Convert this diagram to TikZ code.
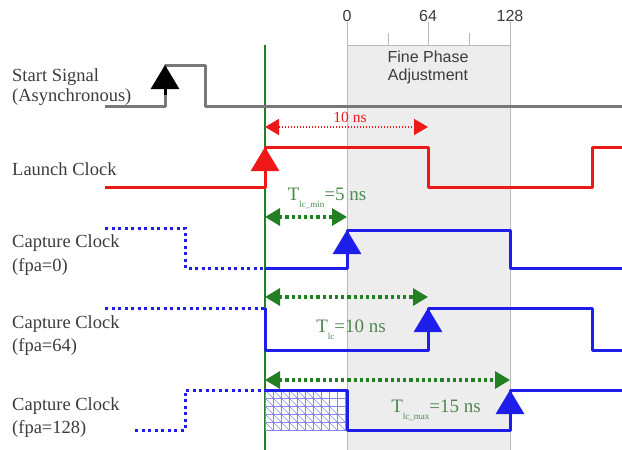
\documentclass[tikz,border=0pt]{standalone}
\usepackage{fontspec}
\setmainfont{Liberation Serif}
\setsansfont{Liberation Sans}
\usetikzlibrary{arrows.meta, positioning, calc}

\definecolor{sigred}{RGB}{238,24,24}
\definecolor{sigblue}{RGB}{30,30,235}
\definecolor{siggray}{RGB}{120,120,120}
\definecolor{measgreen}{RGB}{34,128,34}
\definecolor{txtgreen}{RGB}{78,136,78}
\definecolor{boxgray}{RGB}{237,237,237}
\definecolor{linegray}{RGB}{185,185,185}
\definecolor{lbltext}{RGB}{60,60,60}

\begin{document}
\begin{tikzpicture}[x=1pt, y=-1pt,
    lbl/.style={anchor=base west, inner sep=0pt, text=lbltext, font=\fontsize{18.5}{20}\selectfont},
    scalelbl/.style={anchor=base, inner sep=0pt, text=lbltext, font=\sffamily\fontsize{16}{18}\selectfont},
    wave/.style={line width=3pt, line join=round},
    idle/.style={line width=3pt, dash pattern=on 3pt off 3.5pt},
    edgetip/.style={-{Triangle[length=24pt, width=28pt]}, line width=3pt},
    measure/.style={{Triangle[length=15pt, width=17pt]}-{Triangle[length=15pt, width=17pt]}, line width=3.2pt, dash pattern=on 3.2pt off 3pt, measgreen},
    measred/.style={{Triangle[length=14pt, width=16pt]}-{Triangle[length=14pt, width=16pt]}, line width=1.5pt, dash pattern=on 1.5pt off 1.5pt, sigred},
    meastext/.style={anchor=base, inner sep=0pt, text=txtgreen, font=\fontsize{19}{20}\selectfont}
]
    \useasboundingbox (0,0) rectangle (622,450);

    % fine phase window
    \fill[boxgray] (347,45) rectangle (510,450);
    \draw[linegray, line width=1pt] (347,22) -- (347,450);
    \draw[linegray, line width=1pt] (510,22) -- (510,450);
    \draw[linegray, line width=1pt] (347,45) -- (510,45);
    \draw[linegray, line width=1pt] (428,22) -- (428,45);
    \draw[linegray, line width=1pt] (388,33) -- (388,45);
    \draw[linegray, line width=1pt] (469,33) -- (469,45);
    \node[scalelbl] (s0) at (347,21) {0};
    \node[scalelbl] (s64) at (428,21) {64};
    \node[scalelbl] (s128) at (510,21) {128};
    \node[scalelbl] (fpa1) at (428,62) {Fine Phase};
    \node[scalelbl] (fpa2) at (428,80) {Adjustment};

    % launch instant
    \draw[measgreen, line width=1.5pt] (265,45) -- (265,450);

    % hatched part of the capture clock (fpa=128)
    \begin{scope}
        \clip (265,390) rectangle (347,430);
        \foreach \i in {0,...,11} {
            \draw[sigblue!55, line width=0.6pt] (265+\i*8,390) -- (265+\i*8,430);
            \draw[sigblue!55, line width=0.6pt] (265+\i*8-40,390) -- (265+\i*8,430);
        }
        \foreach \j in {0,...,5}
            \draw[sigblue!55, line width=0.6pt] (265,390+\j*8) -- (347,390+\j*8);
    \end{scope}

    % row labels
    \node[lbl] (start1) at (12,81) {Start Signal};
    \node[lbl] (start2) at (12,101) {(Asynchronous)};
    \node[lbl] (launch) at (12,175) {Launch Clock};
    \node[lbl] (capA1) at (12,247) {Capture Clock};
    \node[lbl] (capA2) at (12,271) {(fpa=0)};
    \node[lbl] (capB1) at (12,328) {Capture Clock};
    \node[lbl] (capB2) at (12,351) {(fpa=64)};
    \node[lbl] (capC1) at (12,410) {Capture Clock};
    \node[lbl] (capC2) at (12,433) {(fpa=128)};

    % start signal
    \draw[wave, siggray] (105,106) -- (165,106) -- (165,65) -- (205,65) -- (205,106) -- (622,106);
    \draw[edgetip, black] (165,95) -- (165,65);

    % launch clock
    \draw[wave, sigred] (105,187) -- (265,187) -- (265,147) -- (428,147) -- (428,187) -- (592,187) -- (592,147) -- (622,147);
    \draw[edgetip, sigred] (265,178) -- (265,147);

    % capture clock, fpa=0
    \draw[idle, sigblue] (105,228) -- (185,228) -- (185,268) -- (265,268);
    \draw[wave, sigblue] (265,268) -- (347,268) -- (347,230) -- (510,230) -- (510,268) -- (622,268);
    \draw[edgetip, sigblue] (347,262) -- (347,230);

    % capture clock, fpa=64
    \draw[idle, sigblue] (105,308) -- (265,308);
    \draw[wave, sigblue] (265,308) -- (265,350) -- (428,350) -- (428,308) -- (592,308) -- (592,350) -- (622,350);
    \draw[edgetip, sigblue] (428,342) -- (428,308);

    % capture clock, fpa=128
    \draw[idle, sigblue] (135,430) -- (185,430) -- (185,390) -- (265,390);
    \draw[wave, sigblue] (265,390) -- (347,390) -- (347,430) -- (510,430) -- (510,390) -- (622,390);
    \draw[edgetip, sigblue] (510,422) -- (510,390);

    % delays
    \coordinate (r1) at (265,127);
    \coordinate (r2) at (428,127);
    \draw[measred] (r1) -- (r2);
    \node[anchor=base, inner sep=0pt, text=sigred, font=\fontsize{15.5}{16}\selectfont] (tten) at (350,122) {10 ns};

    \coordinate (g0a) at (265,217);
    \coordinate (g0b) at (347,217);
    \draw[measure] (g0a) -- (g0b);
    \node[meastext] (tmin) at (327,200) {T\raisebox{-7pt}{\fontsize{9}{9}\selectfont lc\_min}=5 ns};

    \coordinate (g1a) at (265,297);
    \coordinate (g1b) at (428,297);
    \draw[measure] (g1a) -- (g1b);
    \node[meastext] (tmid) at (351,332) {T\raisebox{-7pt}{\fontsize{9}{9}\selectfont lc}=10 ns};

    \coordinate (g2a) at (265,380);
    \coordinate (g2b) at (510,380);
    \draw[measure] (g2a) -- (g2b);
    \node[meastext] (tmax) at (436,412) {T\raisebox{-7pt}{\fontsize{9}{9}\selectfont lc\_max}=15 ns};
\end{tikzpicture}
\end{document}
